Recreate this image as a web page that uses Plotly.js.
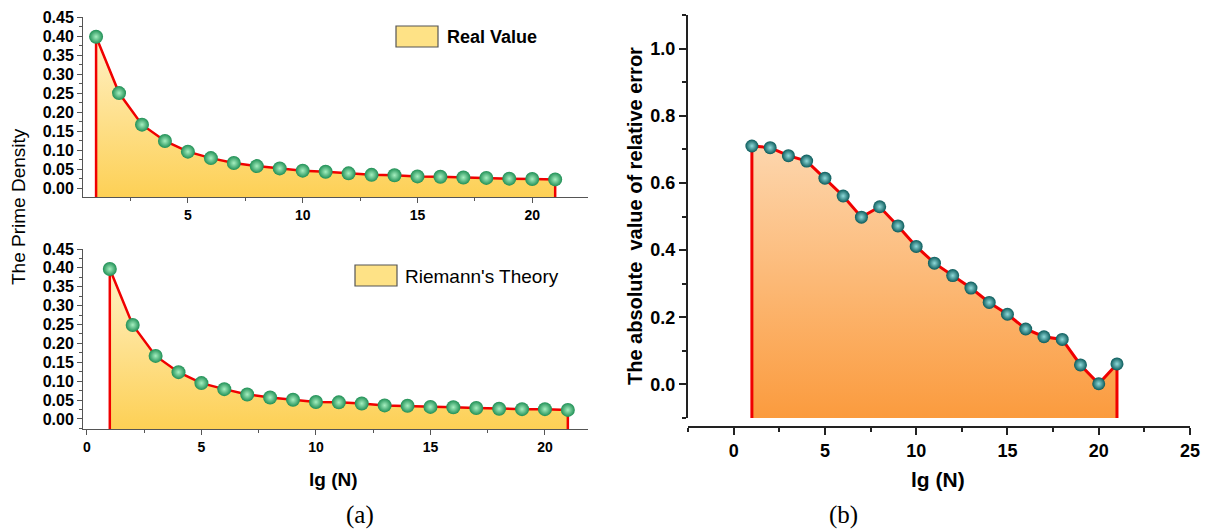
<!DOCTYPE html>
<html><head><meta charset="utf-8">
<script src="https://cdn.plot.ly/plotly-3.0.1.min.js"></script>
<style>html,body{margin:0;padding:0;background:#fff}#chart{width:1210px;height:530px}</style>
</head><body><div id="chart"></div>
<script>
// ---- data ----
const lgN = [1,2,3,4,5,6,7,8,9,10,11,12,13,14,15,16,17,18,19,20,21];
const realValue = [0.398,0.250,0.167,0.124,0.096,0.079,0.066,0.058,0.052,0.046,0.043,0.039,0.035,0.034,0.031,0.030,0.028,0.027,0.025,0.024,0.023];
const riemannTheory = [0.397,0.249,0.167,0.124,0.095,0.079,0.065,0.057,0.051,0.045,0.044,0.041,0.036,0.035,0.032,0.031,0.029,0.027,0.026,0.026,0.024];
const relError = [0.710,0.705,0.681,0.665,0.614,0.561,0.498,0.529,0.472,0.411,0.361,0.324,0.287,0.244,0.209,0.165,0.142,0.134,0.058,0.002,0.061];
const legendNames = ["Real Value", "Riemann's Theory"];

// ---- helpers ----
const W = 1210, H = 530;
const PX = x => x / W, PY = y => 1 - y / H;
const FONT = "Liberation Sans, Arial, sans-serif";
const Y1MIN = -0.024, Y2MIN = -0.0265, Y3MIN = -0.1;

function areaTrace(xs, ys, ymin, xa, ya, cBottom, cTop, lw) {
  return {
    x: [xs[0], ...xs, xs[xs.length - 1]],
    y: [ymin, ...ys, ymin],
    xaxis: xa, yaxis: ya, type: 'scatter', mode: 'lines',
    fill: 'toself',
    fillgradient: {type: 'vertical', colorscale: [[0, cBottom], [1, cTop]], start: ymin, stop: Math.max(...ys)},
    line: {color: 'rgb(240,0,0)', width: lw},
    hoverinfo: 'skip', showlegend: false
  };
}
function markerTrace(xs, ys, xa, ya, size, col, hi) {
  return {
    x: xs, y: ys, xaxis: xa, yaxis: ya, type: 'scatter', mode: 'markers',
    marker: {size: size, color: col, gradient: {type: 'radial', color: hi}, line: {width: 0}},
    showlegend: false
  };
}

const traces = [
  areaTrace(lgN, realValue, Y1MIN, 'x', 'y', '#fdd055', '#fff1c6', 2.5),
  markerTrace(lgN, realValue, 'x', 'y', 14, '#1f8f55', '#a6efc0'),
  areaTrace(lgN, riemannTheory, Y2MIN, 'x2', 'y2', '#fdd055', '#fff1c6', 2.5),
  markerTrace(lgN, riemannTheory, 'x2', 'y2', 14, '#1f8f55', '#a6efc0'),
  areaTrace(lgN, relError, Y3MIN, 'x3', 'y3', '#fb9b3e', '#fdd6ad', 3),
  markerTrace(lgN, relError, 'x3', 'y3', 13, '#0a5a5a', '#8fdada')
];

const leftX = {
  domain: [PX(83), PX(588)], showgrid: false, zeroline: false,
  showline: true, linecolor: '#555', linewidth: 1,
  ticks: 'outside', ticklen: 5, tickcolor: '#555', tickwidth: 1,
  dtick: 5, tick0: 0,
  minor: {dtick: 2.5, ticks: 'outside', ticklen: 3, tickcolor: '#555'},
  tickfont: {family: FONT, size: 14, color: '#000', weight: 'bold'}
};
const leftY = {
  showgrid: false, zeroline: false,
  showline: true, linecolor: '#555', linewidth: 1,
  ticks: 'outside', ticklen: 5, tickcolor: '#555', tickwidth: 1,
  dtick: 0.05, tick0: 0, tickformat: '.2f',
  minor: {dtick: 0.025, ticks: 'outside', ticklen: 3, tickcolor: '#555'},
  tickfont: {family: FONT, size: 16, color: '#000', weight: 'bold'}
};

const layout = {
  width: W, height: H, margin: {l: 0, r: 0, t: 0, b: 0},
  paper_bgcolor: '#fff', plot_bgcolor: 'rgba(0,0,0,0)', showlegend: false,
  xaxis: Object.assign({}, leftX, {anchor: 'y', range: [0.43, 22.43]}),
  yaxis: Object.assign({}, leftY, {anchor: 'x', domain: [PY(197.3), PY(17)], range: [Y1MIN, 0.45]}),
  xaxis2: Object.assign({}, leftX, {anchor: 'y2', range: [-0.17, 21.88]}),
  yaxis2: Object.assign({}, leftY, {anchor: 'x2', domain: [PY(429), PY(249)], range: [Y2MIN, 0.45]}),
  xaxis3: {
    domain: [PX(688), PX(1190)], anchor: 'free', position: PY(427), range: [-2.5, 25],
    showgrid: false, zeroline: false, showline: true, linecolor: '#222', linewidth: 2,
    ticks: 'outside', ticklen: 7, tickwidth: 2, tickcolor: '#222', dtick: 5, tick0: 0,
    minor: {dtick: 2.5, ticks: 'outside', ticklen: 4, tickwidth: 2, tickcolor: '#222'},
    tickfont: {family: FONT, size: 18, color: '#000', weight: 'bold'}
  },
  yaxis3: {
    domain: [PY(418), PY(15)], anchor: 'x3', range: [Y3MIN, 1.1],
    showgrid: false, zeroline: false, showline: true, linecolor: '#222', linewidth: 2,
    ticks: 'outside', ticklen: 7, tickwidth: 2, tickcolor: '#222', dtick: 0.2, tick0: 0, tickformat: '.1f',
    minor: {dtick: 0.1, ticks: 'outside', ticklen: 4, tickwidth: 2, tickcolor: '#222'},
    tickfont: {family: FONT, size: 18, color: '#000', weight: 'bold'}
  },
  shapes: [
    {type: 'rect', xref: 'paper', yref: 'paper', x0: PX(396), x1: PX(438), y0: PY(47), y1: PY(26),
     fillcolor: '#fee286', line: {color: '#555', width: 1.2}},
    {type: 'rect', xref: 'paper', yref: 'paper', x0: PX(355), x1: PX(397), y0: PY(286), y1: PY(265),
     fillcolor: '#fee286', line: {color: '#555', width: 1.2}}
  ],
  annotations: [
    {xref: 'paper', yref: 'paper', x: PX(445), y: PY(37), xanchor: 'left', yanchor: 'middle', showarrow: false,
     text: legendNames[0], font: {family: FONT, size: 18, color: '#000', weight: 'bold'}},
    {xref: 'paper', yref: 'paper', x: PX(403), y: PY(276), xanchor: 'left', yanchor: 'middle', showarrow: false,
     text: legendNames[1], font: {family: FONT, size: 19, color: '#000'}},
    {xref: 'paper', yref: 'paper', x: PX(18), y: PY(207), xanchor: 'center', yanchor: 'middle', showarrow: false,
     textangle: -90, text: 'The Prime Density', font: {family: FONT, size: 19, color: '#000'}},
    {xref: 'paper', yref: 'paper', x: PX(333), y: PY(479), xanchor: 'center', yanchor: 'middle', showarrow: false,
     text: 'lg (N)', font: {family: FONT, size: 19, color: '#000', weight: 'bold'}},
    {xref: 'paper', yref: 'paper', x: PX(635), y: PY(216), xanchor: 'center', yanchor: 'middle', showarrow: false,
     textangle: -90, text: 'The absolute\u00a0 value of relative error', font: {family: FONT, size: 20, color: '#000', weight: 'bold'}},
    {xref: 'paper', yref: 'paper', x: PX(938), y: PY(479), xanchor: 'center', yanchor: 'middle', showarrow: false,
     text: 'lg (N)', font: {family: FONT, size: 21, color: '#000', weight: 'bold'}},
    {xref: 'paper', yref: 'paper', x: PX(360), y: PY(515), xanchor: 'center', yanchor: 'middle', showarrow: false,
     text: '(a)', font: {family: 'Liberation Serif, Times New Roman, serif', size: 25, color: '#000'}},
    {xref: 'paper', yref: 'paper', x: PX(843), y: PY(515), xanchor: 'center', yanchor: 'middle', showarrow: false,
     text: '(b)', font: {family: 'Liberation Serif, Times New Roman, serif', size: 25, color: '#000'}}
  ]
};

Plotly.newPlot('chart', traces, layout, {displayModeBar: false, staticPlot: true});
</script>
</body></html>
